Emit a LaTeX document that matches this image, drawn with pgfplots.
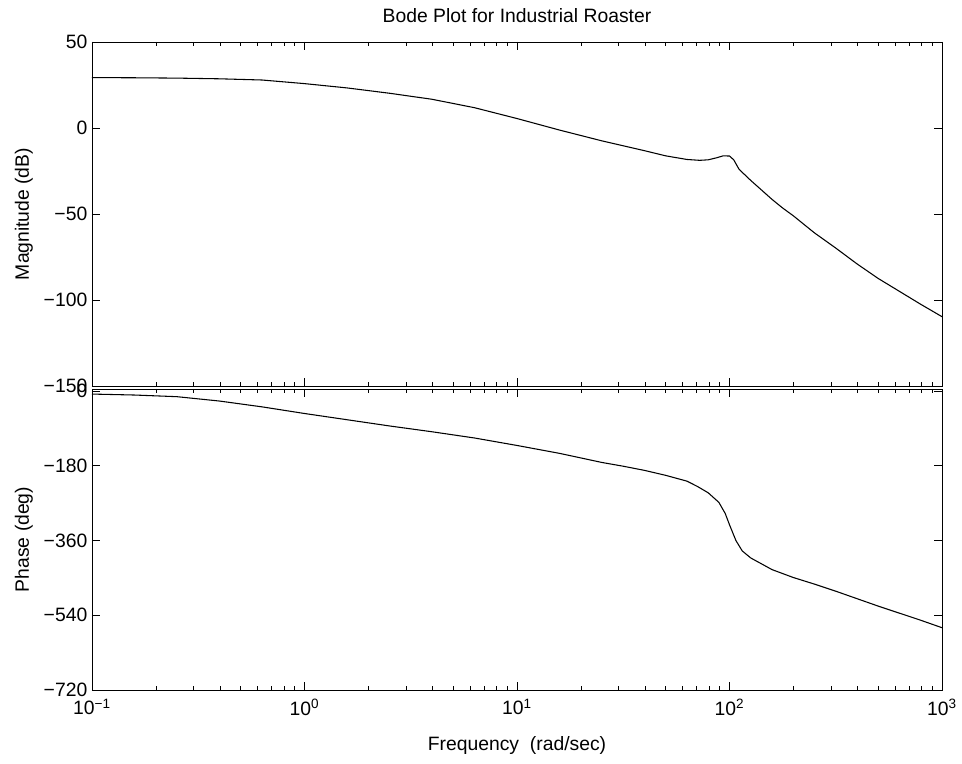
\documentclass[border=0pt]{standalone}
\usepackage{fontspec}
\setmainfont{Liberation Sans}
\usepackage{pgfplots}
\pgfplotsset{compat=1.18}
\usetikzlibrary{calc}

\begin{document}
\begin{tikzpicture}
\pgfplotsset{
  every axis title shift=0pt,
  bodeax/.style={
    scale only axis, width=637.5pt,
    xmin=0.1, xmax=1000,
    axis line style={line width=0.6pt},
    every tick/.style={black, line width=0.5pt},
    major tick length=6pt, minor tick length=3pt,
    tick align=inside, tick pos=both,
    font=\fontsize{14.5}{17}\selectfont,
    ylabel style={at={(axis description cs:-0.08,0.5)}, anchor=center, inner sep=0pt},
  },
}
% magnitude
\begin{semilogxaxis}[bodeax, name=mag, height=258pt,
  ymin=-150, ymax=50, ytick={-150,-100,-50,0,50},
  yticklabels={−150,−100,−50,0,50},
  xticklabels={},
  ylabel={Magnitude (dB)},
  title={Bode Plot for Industrial Roaster},
  title style={at={(axis description cs:0.5,1.056)}, anchor=base, inner sep=0pt},
]
\addplot[black, line width=0.8pt] coordinates {
  (0.1,29.3) (0.158,29.2) (0.251,29.0) (0.398,28.6) (0.631,27.9) (1,25.8)
  (1.585,23.3) (2.512,20.2) (3.981,16.7) (6.31,11.8) (10,5.5) (15.85,-1.2)
  (25.12,-7.5) (39.81,-13.2) (50.12,-16.2) (63.1,-18.3) (72.4,-18.8)
  (79.4,-18.5) (87.1,-17.3) (93.3,-16.2) (100,-16.3) (104.7,-18.5)
  (110.9,-24) (125.9,-30.5) (141.3,-36) (158.5,-41.5) (177.8,-46.5)
  (199.5,-51) (251.2,-61) (316.2,-69.8) (398.1,-79) (501.2,-87.5)
  (631,-95) (794.3,-102.5) (1000,-109.7)
};
\end{semilogxaxis}
% phase
\begin{semilogxaxis}[bodeax, name=ph, height=225.75pt,
  at={($(mag.south west)+(0,-2.25pt)$)}, anchor=north west,
  ymin=-720, ymax=5, ytick={-720,-540,-360,-180,0},
  yticklabels={−720,−540,−360,−180,0},
  xtick={0.1,1,10,100,1000},
  xticklabels={10\textsuperscript{−1},10\textsuperscript{0},10\textsuperscript{1},10\textsuperscript{2},10\textsuperscript{3}},
  xticklabel style={yshift=-3pt},
  ylabel={Phase (deg)},
  xlabel={Frequency\ \ (rad/sec)},
  xlabel style={at={(axis description cs:0.5,-0.186)}, anchor=center, inner sep=0pt},
]
\addplot[black, line width=0.8pt] coordinates {
  (0.1,-7.2) (0.158,-9.5) (0.251,-13.5) (0.398,-24) (0.631,-38) (1,-54)
  (1.585,-69) (2.512,-84) (3.981,-98) (6.31,-113) (10,-131) (15.85,-150)
  (25.12,-172) (31.62,-181) (39.81,-191) (50.12,-203) (63.1,-217)
  (70.8,-230) (79.4,-245) (89.1,-268) (95.5,-295) (100,-322) (107.2,-360)
  (114.8,-385) (125.9,-402) (141.3,-416) (158.5,-430) (199.5,-449)
  (251.2,-465) (316.2,-482) (398.1,-500) (501.2,-518) (631,-535)
  (794.3,-552) (1000,-570)
};
\end{semilogxaxis}
\path (mag.north west) ++(-69pt,31.5pt) rectangle ++(721.5pt,-572.25pt);
\end{tikzpicture}
\end{document}
